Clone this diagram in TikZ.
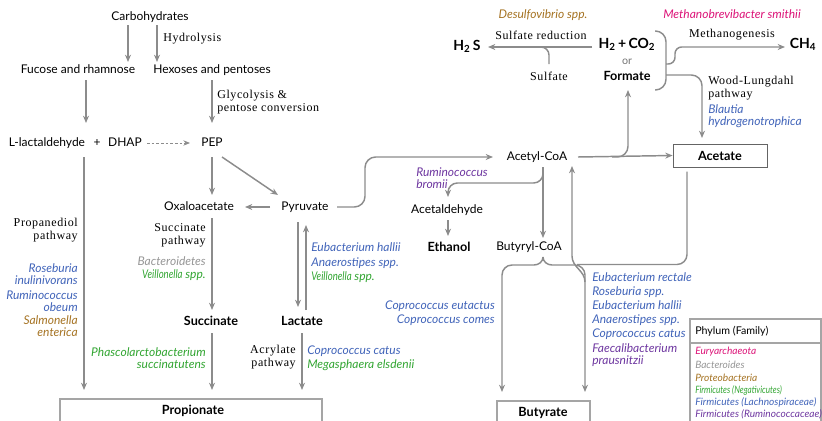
\documentclass[tikz,border=0pt]{standalone}
\usepackage{fontspec}
\setmainfont{Lato}
\newfontfamily\serif{Liberation Serif}[LetterSpace=5]
\usetikzlibrary{arrows.meta}
\definecolor{cblue}{RGB}{65,100,185}
\definecolor{cgreen}{RGB}{50,165,50}
\definecolor{cpurple}{RGB}{110,55,160}
\definecolor{cmag}{RGB}{220,20,120}
\definecolor{cbrown}{RGB}{165,115,35}
\definecolor{cgray}{RGB}{150,150,150}
\definecolor{ag}{RGB}{140,140,140}
\definecolor{boxc}{RGB}{100,100,100}
\definecolor{boxl}{RGB}{165,165,165}
\newcommand{\cond}[1]{\scalebox{0.8}[1]{#1}}
\begin{document}
\begin{tikzpicture}[x=0.75pt,y=-0.75pt,
  font=\fontsize{9}{11}\selectfont,
  every node/.style={inner sep=0pt},
  arr/.style={draw=ag, line width=1.1pt, -{Stealth[length=5.5pt,width=4.5pt]}},
  ln/.style={draw=ag, line width=1.1pt},
  dsh/.style={draw=ag, line width=0.7pt, dash pattern=on 2pt off 1.5pt, -{Stealth[length=5pt,width=4pt]}},
  ser/.style={font=\serif\fontsize{9}{9.75}\selectfont},
  sp/.style={font=\fontsize{9}{9.4}\selectfont\itshape},
  bd/.style={font=\fontsize{9.5}{11}\selectfont\bfseries},
  big/.style={font=\fontsize{10.5}{12}\selectfont\bfseries},
  one/.style={text height=7pt, text depth=2pt},
  lg/.style={font=\fontsize{7.6}{9}\selectfont\itshape, anchor=west},
  boxline/.style={draw=boxl, line width=0.8pt},
]
\useasboundingbox (0,0) rectangle (822,421);

% ---------- main nodes ----------
\node[one] (carb) at (150,17) {Carbohydrates};
\node[one] (fuc) at (78,70) {Fucose and rhamnose};
\node[one] (hex) at (212,70) {Hexoses and pentoses};
\node[one] (lac) at (47,143) {L-lactaldehyde};
\node[one] (plus) at (97,143) {+};
\node[one] (dhap) at (125,143) {DHAP};
\node[one] (pep) at (212,143) {PEP};
\node[one] (oxa) at (199,207) {Oxaloacetate};
\node[one] (pyr) at (305,207) {Pyruvate};
\node[one,bd] (succ) at (211,322) {Succinate};
\node[one,bd] (lact) at (302,322) {Lactate};
\node[one,bd] (prop) at (193,411) {Propionate};
\node[one] (acoa) at (537,157) {Acetyl-CoA};
\node[one] (acald) at (447,210) {Acetaldehyde};
\node[one,bd] (eth) at (449,248) {Ethanol};
\node[one] (bcoa) at (529,247) {Butyryl-CoA};
\node[one,bd] (but) at (543,413) {Butyrate};
\node[bd, draw=boxc, line width=0.6pt, minimum width=70.5pt, minimum height=17.25pt] (acet) at (720,155.5) {Acetate};
\node[one,big] (h2) at (627,45) {H\textsubscript{2}\,+\,CO\textsubscript{2}};
\node[one, font=\fontsize{8}{9}\selectfont, text=black!55] (or) at (627,61) {or};
\node[one,bd] (form) at (627,77) {Formate};
\node[one,big] (h2s) at (467,47) {H\textsubscript{2}\,S};
\node[one,ser] (sulf) at (549,77) {Sulfate};
\node[one,big] (ch4) at (803,45) {CH\textsubscript{4}};

% ---------- boxes (open at the bottom edge) ----------
\draw[boxline] (60,421) |- (322,399) -- (322,421);
\draw[boxline] (497,421) |- (590,401) -- (590,421);
\draw[boxline] (690,421) |- (821,319) -- (821,421);
\draw[boxline] (690,343) -- (821,343);

% ---------- connectors ----------
\draw[arr] (carb.center) ++(-22,8) -- ++(0,37);
\draw[arr] (carb.center) ++(7,8) -- ++(0,37);
\draw[arr] (fuc.center) ++(8,10) -- ++(0,43);
\draw[arr] (hex.center) ++(0,10) -- ++(0,43);
\draw[dsh] (dhap.center) ++(22,0) -- ++(43,0);
\draw[arr] (lac.center) ++(37,14) -- ++(0,233);
\draw[arr] (pep.center) ++(0,14) -- ++(0,38);
\draw[arr] (pep.center) ++(10,14) -- ++(56,38);
\draw[arr] (pyr.center) ++(-35,0) -- ++(-25,0);
\draw[arr] (pyr.center) ++(-7,15) -- ++(0,85);
\draw[arr] (lact.center) ++(4,-12) -- ++(0,-85);
\draw[arr] (lact.center) ++(0,11) -- ++(0,57);
\draw[arr] (oxa.center) ++(13,11) -- ++(0,92);
\draw[arr] (succ.center) ++(1,11) -- ++(0,57);
\draw[arr, rounded corners=8] (pyr.center) ++(32,0) -- ++(28,0) -- ++(0,-50) -- ++(128,0);
\draw[arr] (acoa.center) ++(41,0) -- (acet.west);
\draw[arr, rounded corners=8] (acoa.center) ++(75,0) -- ++(16,0) -- ++(0,-67);
\draw[arr, rounded corners=7] (acoa.center) ++(6,10) -- ++(0,16) -- ++(-95,0) -- ++(0,14);
\draw[arr] (acoa.center) ++(6,10) -- ++(0,71);
\draw[arr] (acald.center) ++(1,10) -- ++(0,16);
% brace below Butyryl-CoA, legs to Butyrate
\draw[arr] (bcoa.center) ++(14,10) to[out=-90,in=0] ++(-9,8) -- ++(-22,0) to[out=180,in=90] ++(-10,10) -- ++(0,117);
\draw[arr] (bcoa.center) ++(14,10) to[out=-90,in=180] ++(9,8) -- ++(23,0) to[out=0,in=90] ++(10,10) -- ++(0,117);
% acetate joining, acetyl-CoA returning
\draw[ln] (acet.center) ++(-33,16) -- ++(0,83) to[out=-90,in=0] ++(-10,10) -- ++(-100,0);
\draw[arr] (acoa.center) ++(48,125) to[out=90,in=-90] ++(-13,-26) -- ++(0,-90);
% hydrogen part
\draw[arr] (h2.center) ++(-35,2) -- ++(-104,0);
\draw[ln, rounded corners=6] (sulf.center) ++(0,-13) -- ++(0,-17) -- ++(-10,0);
\draw[ln, rounded corners=8] (h2.center) ++(28,-14) -- ++(11,0) -- ++(0,59) -- ++(-11,0);
\draw[arr, rounded corners=5] (h2.center) ++(39,19) -- ++(9,0) -- ++(0,-17) -- ++(110,0);
\draw[arr, rounded corners=8] (h2.center) ++(39,30) -- ++(36,0) -- ++(0,63);

% ---------- pathway labels (serif) ----------
\node[ser, anchor=west] (hyd) at (163,39) {Hydrolysis};
\node[ser, anchor=west, align=left] (glyc) at (217,102) {Glycolysis \&\\pentose conversion};
\node[ser, anchor=east, align=right] (prod) at (78,230) {Propanediol\\pathway};
\node[ser, anchor=east, align=right] (succp) at (206,235) {Succinate\\pathway};
\node[ser, anchor=east, align=right] (acry) at (296,357) {Acrylate\\pathway};
\node[ser] (sred) at (541,35) {Sulfate reduction};
\node[ser] (meth) at (732,35) {Methanogenesis};
\node[ser, anchor=west, align=left] (wood) at (708,88) {Wood-Lungdahl\\pathway};

% ---------- organisms ----------
\node[sp, text=cblue, anchor=east, align=right] (s1) at (78,274) {Roseburia\\inulinivorans};
\node[sp, text=cblue, anchor=east, align=right] (s2) at (78,301) {Ruminococcus\\obeum};
\node[sp, text=cbrown, anchor=east, align=right] (s3) at (78,326) {Salmonella\\enterica};
\node[sp, one, text=cgray, anchor=east] (s4) at (206,262) {Bacteroidetes};
\node[sp, one, text=cgreen, anchor=east] (s5) at (206,275) {\cond{Veillonella} spp.};
\node[sp, text=cgreen, anchor=east, align=right] (s6) at (206,358) {Phascolarctobacterium\\succinatutens};
\node[sp, one, text=cblue, anchor=west] (s7) at (307,351) {Coprococcus catus};
\node[sp, one, text=cgreen, anchor=west] (s8) at (307,365) {Megasphaera elsdenii};
\node[sp, one, text=cblue, anchor=west] (s9) at (311,248) {Eubacterium hallii};
\node[sp, one, text=cblue, anchor=west] (s10) at (311,263) {Anaerostipes spp.};
\node[sp, one, text=cgreen, anchor=west] (s11) at (311,277) {\cond{Veillonella} spp.};
\node[sp, text=cpurple, anchor=west, align=left] (s12) at (416,178) {Ruminococcus\\bromii};
\node[sp, text=cblue, anchor=east, align=right, font=\fontsize{9}{10.5}\selectfont\itshape] (s13) at (495,313) {Coprococcus eutactus\\Coprococcus comes};
\node[sp, one, text=cblue, anchor=west] (s14) at (592,278) {Eubacterium rectale};
\node[sp, one, text=cblue, anchor=west] (s15) at (592,292) {Roseburia spp.};
\node[sp, one, text=cblue, anchor=west] (s16) at (592,306) {Eubacterium hallii};
\node[sp, one, text=cblue, anchor=west] (s17) at (592,320) {Anaerostipes spp.};
\node[sp, one, text=cblue, anchor=west] (s18) at (592,334) {Coprococcus catus};
\node[sp, text=cpurple, anchor=west, align=left] (s19) at (592,355) {Faecalibacterium\\prausnitzii};
\node[sp, one, text=cbrown] (s20) at (543,15) {Desulfovibrio spp.};
\node[sp, one, text=cmag] (s21) at (732,15) {Methanobrevibacter smithii};
\node[sp, text=cblue, anchor=west, align=left] (s22) at (708,116) {Blautia\\hydrogenotrophica};

% ---------- legend ----------
\node[one, anchor=west, font=\fontsize{8}{9}\selectfont] (lh) at (695,331) {Phylum (Family)};
\node[lg, text=cmag] (l1) at (695,352) {Euryarchaeota};
\node[lg, text=cgray] (l2) at (695,365) {Bacteroides};
\node[lg, text=cbrown] (l3) at (695,378) {Proteobacteria};
\node[lg, text=cgreen] (l4) at (695,390) {\cond{Firmicutes (Negativicutes)}};
\node[lg, text=cblue] (l5) at (695,402) {Firmicutes (Lachnospiraceae)};
\node[lg, text=cpurple] (l6) at (695,414) {Firmicutes (Ruminococcaceae)};
\end{tikzpicture}
\end{document}
